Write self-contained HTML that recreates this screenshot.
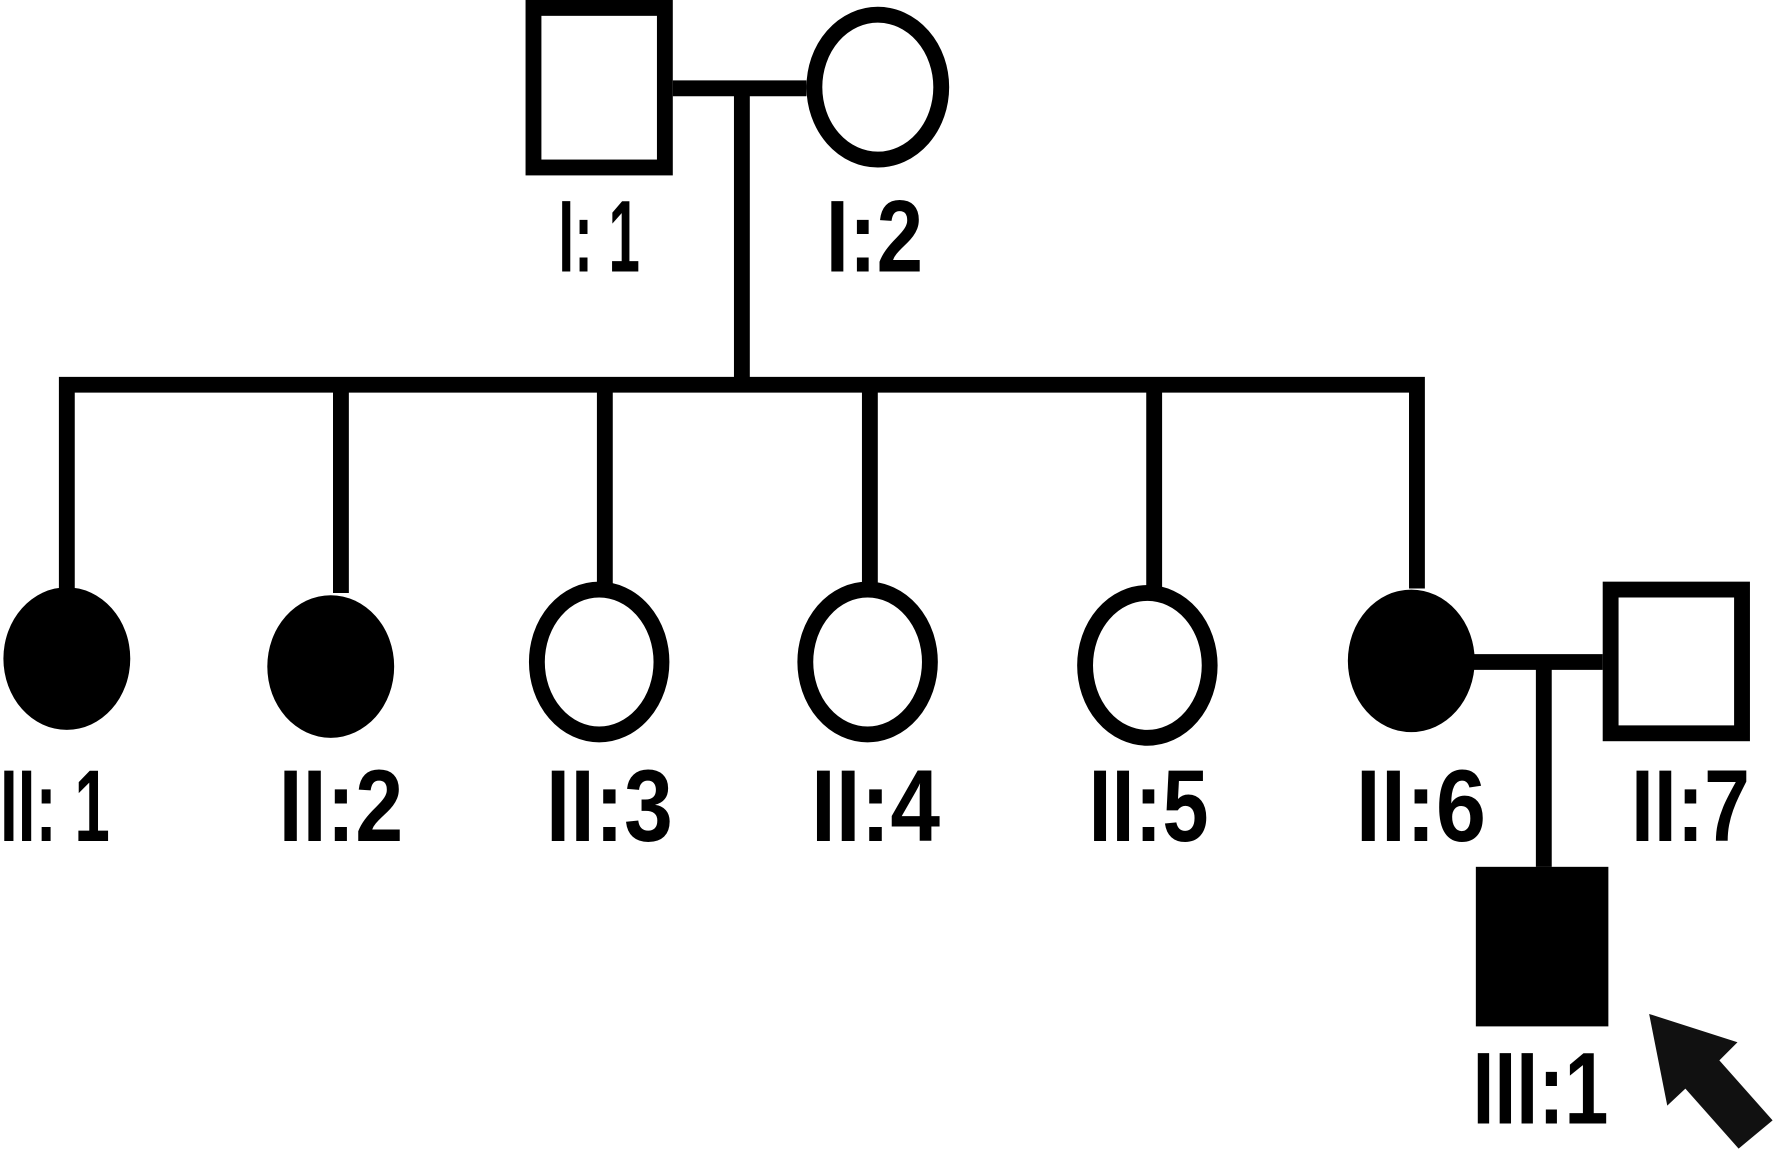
<!DOCTYPE html>
<html><head><meta charset="utf-8"><style>html,body{margin:0;padding:0;background:#fff}svg{display:block}</style></head>
<body>
<svg width="1776" height="1152" viewBox="0 0 1568 1018" preserveAspectRatio="none" xmlns="http://www.w3.org/2000/svg">
<g fill="none" stroke="#000" stroke-width="14">
<rect x="471" y="7" width="116" height="141"/>
<ellipse cx="775" cy="77" rx="56" ry="64"/>
<line x1="594" y1="78" x2="712" y2="78"/>
<line x1="655" y1="78" x2="655" y2="340"/>
<polyline points="59,520 59,340 1251,340 1251,520"/>
<line x1="301" y1="340" x2="301" y2="524"/>
<line x1="534" y1="340" x2="534" y2="516"/>
<line x1="768" y1="340" x2="768" y2="516"/>
<line x1="1019" y1="340" x2="1019" y2="520"/>
<ellipse cx="529" cy="585" rx="55" ry="64"/>
<ellipse cx="766" cy="585" rx="55" ry="64"/>
<ellipse cx="1013" cy="588" rx="55" ry="64"/>
<rect x="1422" y="521" width="116" height="127"/>
<line x1="1300" y1="585" x2="1415" y2="585"/>
<line x1="1363" y1="585" x2="1363" y2="766"/>
</g>
<g fill="#000">
<ellipse cx="59" cy="582" rx="56" ry="63"/>
<ellipse cx="292" cy="589" rx="56" ry="63"/>
<ellipse cx="1246" cy="584" rx="56" ry="63"/>
<rect x="1303" y="766" width="117" height="141"/>
<polygon points="1456,896 1534,921 1518,937 1565,990 1535,1015 1488,962 1472,977" fill="#111"/>
</g>
<g font-family="Liberation Sans, sans-serif" font-size="90" font-weight="bold" fill="#000">
<text x="493" y="240" textLength="72" lengthAdjust="spacingAndGlyphs">I: 1</text>
<text x="729" y="240" textLength="86" lengthAdjust="spacingAndGlyphs">I:2</text>
<text x="0" y="743" textLength="97" lengthAdjust="spacingAndGlyphs">II: 1</text>
<text x="246" y="743" textLength="110" lengthAdjust="spacingAndGlyphs">II:2</text>
<text x="482" y="743" textLength="112" lengthAdjust="spacingAndGlyphs">II:3</text>
<text x="716" y="743" textLength="114" lengthAdjust="spacingAndGlyphs">II:4</text>
<text x="961" y="743" textLength="106" lengthAdjust="spacingAndGlyphs">II:5</text>
<text x="1197" y="743" textLength="115" lengthAdjust="spacingAndGlyphs">II:6</text>
<text x="1440" y="743" textLength="105" lengthAdjust="spacingAndGlyphs">II:7</text>
<text x="1300" y="993" textLength="120" lengthAdjust="spacingAndGlyphs">III:1</text>
</g>
</svg>
</body></html>
